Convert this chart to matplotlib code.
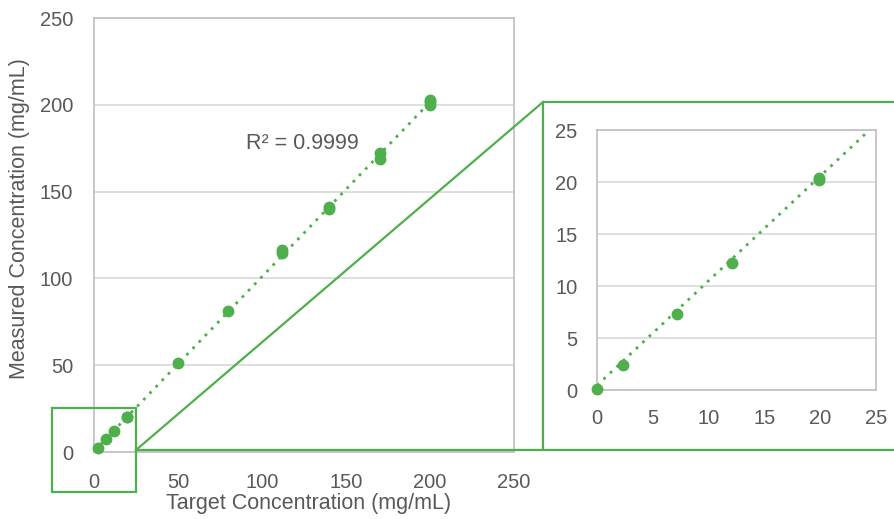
import matplotlib
matplotlib.use("Agg")
import matplotlib.pyplot as plt
import numpy as np
from matplotlib.patches import Rectangle
from matplotlib.lines import Line2D

plt.rcParams['font.family'] = ['Liberation Sans', 'DejaVu Sans']

# Data (main chart)
target = [2.3, 7.2, 12.1, 19.9, 19.9, 50, 80, 112, 112, 140, 140, 170, 170, 200, 200, 200]
measured = [2.4, 7.3, 12.2, 20.2, 20.4, 51, 81, 114.5, 116.3, 140.2, 141.3, 168.7, 172.2, 199.8, 201.5, 203.0]
# Data (inset, low range)
inset_target = [0, 2.3, 7.2, 12.1, 19.9, 19.9]
inset_measured = [0.1, 2.4, 7.3, 12.2, 20.2, 20.4]
main_ticks = [0, 50, 100, 150, 200, 250]
inset_ticks = [0, 5, 10, 15, 20, 25]
r2_label = "R² = 0.9999"
xlabel = "Target Concentration (mg/mL)"
ylabel = "Measured Concentration (mg/mL)"

green = '#4EAF4C'
txt = '#595959'
gridc = '#D9D9D9'
framec = '#BFBFBF'

W, H = 894, 519
fig = plt.figure(figsize=(W / 100, H / 100), dpi=100)

# linear fit over all data
all_t = inset_target[:1] + target
all_m = inset_measured[:1] + measured
slope, intercept = np.polyfit(all_t, all_m, 1)

def style(ax, ticks, pad):
    ax.set_xticks(ticks)
    ax.set_yticks(ticks)
    ax.tick_params(length=0, labelsize=14.5, colors=txt, pad=pad)
    for s in ax.spines.values():
        s.set_color(framec)
        s.set_linewidth(1.2)
    ax.grid(axis='y', color=gridc, linewidth=1.2)
    ax.set_axisbelow(True)

# Main axes
ax = fig.add_axes([94 / W, 1 - 452 / H, (514 - 94) / W, (452 - 18) / H])
ax.set_xlim(0, 250)
ax.set_ylim(0, 250)
style(ax, main_ticks, 15)
xs = np.array([0, max(target)])
ax.plot(xs, slope * xs + intercept, linestyle=(0, (1, 2.2)), color=green, linewidth=2)
ax.plot(target, measured, 'o', color=green, markersize=7.5, clip_on=False, zorder=3)
fig.text(246 / W, 1 - 143 / H, r2_label, fontsize=15.5, color=txt, va='center', ha='left')
fig.text(309 / W, 1 - 503 / H, xlabel, fontsize=15.5, color=txt, va='center', ha='center')
fig.text(20 / W, 1 - 219 / H, ylabel, fontsize=15.5, color=txt, va='center', ha='center',
         rotation=90)

# zoom box on main axes
ax.add_patch(Rectangle((52 / W, 1 - 492 / H), (136 - 52) / W, (492 - 408) / H,
                       transform=fig.transFigure, fill=False, edgecolor=green,
                       linewidth=1.6, clip_on=False, zorder=5))

# outer inset frame and connectors
fig.add_artist(Rectangle((543 / W, 1 - 450 / H), (W + 10 - 543) / W, (450 - 102) / H,
                         transform=fig.transFigure, fill=False, edgecolor=green,
                         linewidth=1.6, clip_on=False))
fig.add_artist(Line2D([136 / W, 543 / W], [1 - 450 / H, 1 - 102 / H],
                      transform=fig.transFigure, color=green, linewidth=1.6))
fig.add_artist(Line2D([136 / W, 543 / W], [1 - 450 / H, 1 - 450 / H],
                      transform=fig.transFigure, color=green, linewidth=1.6))

# Inset axes
ax2 = fig.add_axes([597 / W, 1 - 390 / H, (876 - 597) / W, (390 - 130) / H])
ax2.set_xlim(0, 25)
ax2.set_ylim(0, 25)
style(ax2, inset_ticks, 14)
xi = np.array([0, 25])
ax2.plot(xi, slope * xi + intercept, linestyle=(0, (1, 2.2)), color=green, linewidth=2)
ax2.plot(inset_target, inset_measured, 'o', color=green, markersize=7.5, clip_on=False, zorder=3)

fig.savefig('out.png', dpi=100)
